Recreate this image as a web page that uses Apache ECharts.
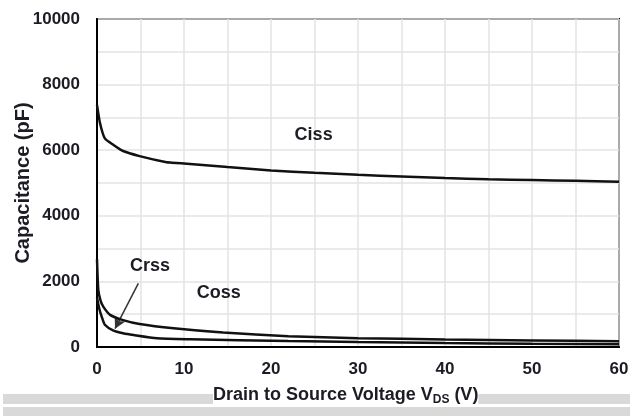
<!DOCTYPE html>
<html><head><meta charset="utf-8">
<script src="https://cdn.jsdelivr.net/npm/echarts@6/dist/echarts.min.js"></script>
<style>html,body{margin:0;padding:0;background:#fff}#c{width:630px;height:416px}</style>
</head><body><div id="c"></div>
<script>
var cissV = [0,0.35,0.9,1.9,3,4.9,8,8.6,10.7,15,20,25,30,35,40,45,50,55,60];
var cissC = [7380,6820,6360,6160,5975,5820,5630,5620,5580,5485,5380,5310,5250,5200,5150,5115,5090,5065,5040];
var cossV = [0,0.15,0.4,0.72,1.5,3,4.9,8.8,14.5,22,30,40,50,60];
var cossC = [2680,1740,1420,1230,980,820,700,570,440,330,270,230,200,175];
var crssV = [0,0.25,0.54,0.9,1.9,3,4.2,6.9,10.7,22,30,40,50,60];
var crssC = [1510,1180,925,680,500,420,365,265,235,180,150,120,100,85];
var xTicks = [0,10,20,30,40,50,60];
var yTicks = [0,2000,4000,6000,8000,10000];
var labels = [
  {name:'Ciss', x:24.9, y:6460},
  {name:'Crss', x:6.1, y:2470},
  {name:'Coss', x:14.0, y:1650}
];
var arrowFrom = [4.75, 1940], arrowTo = [2.07, 560];

function pairs(xs, ys){ return xs.map(function(x,i){return [x, ys[i]];}); }
var FONT = "'Liberation Sans Narrow','Arial Narrow','Liberation Sans',sans-serif";
var TXT = '#1c1c24';
var chart = echarts.init(document.getElementById('c'), null, {renderer:'canvas'});
var lineStyle = {color:'#111', width:2.5};
var gridLine = {show:true, lineStyle:{color:'#e3e3e3', width:1.5}};
var opt = {
  animation:false,
  grid:{left:97, right:11, top:19, bottom:69, containLabel:false, outerBoundsMode:'none',
    show:true, borderColor:'#000', borderWidth:2, backgroundColor:'transparent'},
  xAxis:{type:'value', min:xTicks[0], max:xTicks[xTicks.length-1], interval:10,
    axisLine:{show:true, lineStyle:{color:'#000', width:2}}, axisTick:{show:false},
    axisLabel:{margin:14, color:TXT, fontFamily:FONT, fontWeight:'bold', fontSize:17,
      formatter:function(v){return String(v);}},
    splitLine:gridLine, minorTick:{show:false, splitNumber:2}, minorSplitLine:gridLine},
  yAxis:{type:'value', min:yTicks[0], max:yTicks[yTicks.length-1], interval:2000,
    name:'Capacitance (pF)', nameLocation:'middle', nameGap:64, nameRotate:90, nameMoveOverlap:false,
    nameTextStyle:{color:TXT, fontFamily:FONT, fontWeight:'bold', fontSize:20},
    axisLine:{show:true, lineStyle:{color:'#000', width:2}}, axisTick:{show:false},
    axisLabel:{margin:17, color:TXT, fontFamily:FONT, fontWeight:'bold', fontSize:17,
      formatter:function(v){return String(v);}},
    splitLine:gridLine, minorTick:{show:false, splitNumber:2}, minorSplitLine:gridLine},
  graphic:[
    {type:'rect', shape:{x:3, y:394, width:210, height:10}, style:{fill:'#d9d9d9'}, z:-10},
    {type:'rect', shape:{x:452, y:394, width:178, height:10}, style:{fill:'#d9d9d9'}, z:-10},
    {type:'rect', shape:{x:3, y:407, width:627, height:9}, style:{fill:'#d9d9d9'}, z:-10},
    {type:'text', left:213, top:386, z:10, style:{
      text:'{a|Drain to Source Voltage V}{s|DS}{a| (V)}',
      backgroundColor:'#fff',
      rich:{a:{fontFamily:FONT, fontWeight:'bold', fontSize:18, fill:TXT, verticalAlign:'bottom'},
            s:{fontFamily:FONT, fontWeight:'bold', fontSize:12, fill:TXT, verticalAlign:'bottom', padding:[0,0,-2,0]}}
    }}
  ],
  series:[
    {type:'line', data:pairs(cissV,cissC), smooth:0.2, showSymbol:false, lineStyle:lineStyle, z:5,
     markPoint:{symbol:'circle', symbolSize:0, data:labels.map(function(l){return {coord:[l.x,l.y], name:l.name};}),
       label:{show:true, formatter:'{b}', color:TXT, fontFamily:FONT, fontWeight:'bold', fontSize:18, position:'inside'}}},
    {type:'line', data:pairs(cossV,cossC), smooth:0.2, showSymbol:false, lineStyle:lineStyle, z:5},
    {type:'line', data:pairs(crssV,crssC), smooth:0.2, showSymbol:false, lineStyle:lineStyle, z:5,
     markLine:{silent:true, symbol:['none','arrow'], symbolSize:[9,11], label:{show:false},
       lineStyle:{color:'#333', width:1.5, type:'solid'},
       data:[[{coord:arrowFrom},{coord:arrowTo}]]}}
  ]
};
chart.setOption(opt);
</script></body></html>
